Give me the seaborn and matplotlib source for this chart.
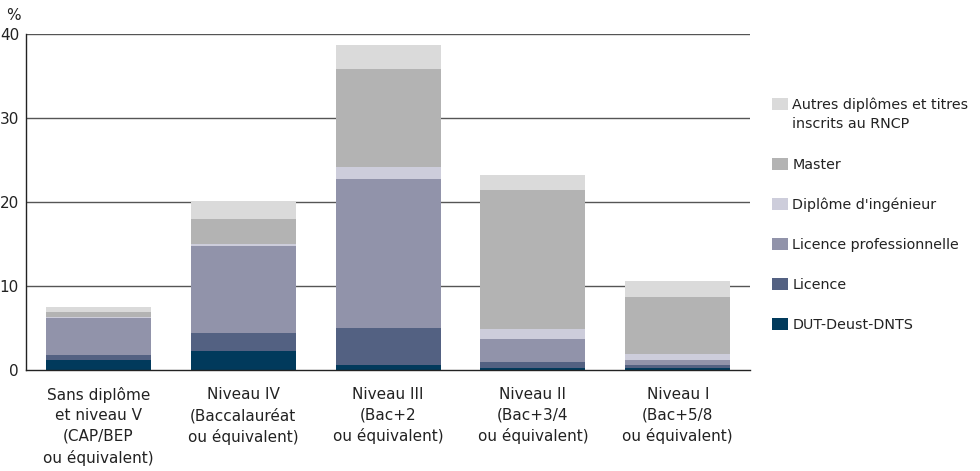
import matplotlib
matplotlib.use("Agg")
import matplotlib.pyplot as plt
import seaborn as sns
import numpy as np
from matplotlib.patches import Patch, Rectangle
from matplotlib.legend_handler import HandlerPatch
from matplotlib.ticker import FixedLocator

# Data (%)
categories = [
    "Sans diplôme\net niveau V\n(CAP/BEP\nou équivalent)",
    "Niveau IV\n(Baccalauréat\nou équivalent)",
    "Niveau III\n(Bac+2\nou équivalent)",
    "Niveau II\n(Bac+3/4\nou équivalent)",
    "Niveau I\n(Bac+5/8\nou équivalent)",
]
series_names = [
    "DUT-Deust-DNTS",
    "Licence",
    "Licence professionnelle",
    "Diplôme d'ingénieur",
    "Master",
    "Autres diplômes et titres\ninscrits au RNCP",
]
dut = [1.2, 2.3, 0.6, 0.2, 0.2]
licence = [0.6, 2.1, 4.4, 0.75, 0.35]
licence_pro = [4.4, 10.4, 17.7, 2.75, 0.7]
ingenieur = [0.05, 0.2, 1.5, 1.2, 0.6]
master = [0.6, 3.0, 11.6, 16.5, 6.8]
autres = [0.7, 2.1, 2.9, 1.8, 1.9]
y_ticks = [0, 10, 20, 30, 40]

series = [dut, licence, licence_pro, ingenieur, master, autres]
colors = ["#013a5c", "#536182", "#9193aa", "#cdcddb", "#b3b3b3", "#dadada"]
TEXT = "#222222"

sns.set_style("white")
plt.rcParams["font.family"] = ["DejaVu Sans"]
FS = 11
LEG_FS = 10.3

fig = plt.figure(figsize=(9.8, 4.71), dpi=100)
ax = fig.add_axes([0.0265, 0.2144, 0.7390, 0.7140])

# grid lines behind bars
for t in y_ticks[1:]:
    ax.axhline(t, color="#555555", lw=1.0, zorder=0)

# stacked bars: draw cumulative totals from top to bottom
cum = np.cumsum(np.array(series), axis=0)
for i in range(len(series) - 1, -1, -1):
    sns.barplot(x=list(range(len(categories))), y=cum[i], color=colors[i],
                width=0.724, saturation=1, linewidth=0, edgecolor="none",
                ax=ax, zorder=2)

ax.set_xlim(-0.5, len(categories) - 0.5)
ax.set_ylim(0, 40)
ax.set_yticks(y_ticks)
ax.set_yticklabels([str(t) for t in y_ticks], fontsize=FS, color=TEXT)
ax.tick_params(axis="y", length=0, pad=5)

ax.set_xticks(range(len(categories)))
ax.set_xticklabels(categories, fontsize=FS, color=TEXT, linespacing=1.47)
ax.tick_params(axis="x", which="major", length=0, pad=12)
ax.xaxis.set_minor_locator(FixedLocator(np.arange(0.5, len(categories), 1.0)))
ax.tick_params(axis="x", which="minor", length=6, width=1, color=TEXT, direction="out")

for side in ["top", "right"]:
    ax.spines[side].set_visible(False)
for side in ["left", "bottom"]:
    ax.spines[side].set_color(TEXT)
    ax.spines[side].set_linewidth(1.0)
ax.set_xlabel("")
ax.set_ylabel("")

fig.text(0.006, 0.968, "%", fontsize=FS, color=TEXT, va="center")


# legend: the two-line entry keeps its swatch next to the first line
def top_patch(legend, orig_handle, xdescent, ydescent, width, height, fontsize):
    return Rectangle((-xdescent, -ydescent + 0.8 * fontsize), width, height)


handles = [Patch(facecolor=c, edgecolor="none") for c in colors]
leg = fig.legend(handles[::-1], series_names[::-1], loc="upper left",
                 bbox_to_anchor=(0.788, 0.793), frameon=False, fontsize=LEG_FS,
                 handlelength=1.1, handleheight=0.9, handletextpad=0.3,
                 labelspacing=1.82, borderpad=0, borderaxespad=0,
                 handler_map={handles[-1]: HandlerPatch(patch_func=top_patch)})
for txt in leg.get_texts():
    txt.set_color(TEXT)
    txt.set_linespacing(1.5)

fig.savefig("out.png", dpi=100)
